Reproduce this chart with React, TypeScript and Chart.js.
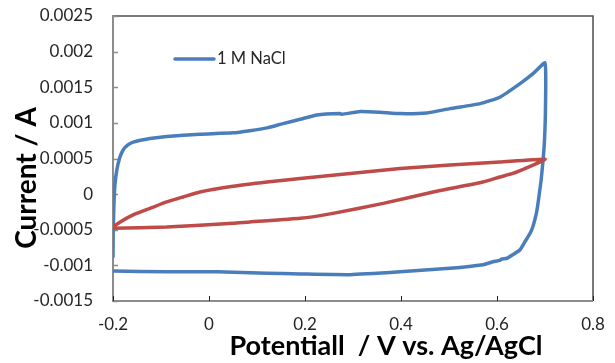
import { useEffect, useRef } from "react";
import { Chart, registerables } from "chart.js";

Chart.register(...registerables);

// Cyclic voltammogram, 1 M NaCl (potential in V, current in A)
const naclLabel = "1 M NaCl";
const naclPotential = [
  -0.2, -0.1995, -0.198, -0.196, -0.192, -0.186, -0.179, -0.169, -0.158, -0.123,
  -0.088, -0.019, 0.05, 0.085, 0.121, 0.154, 0.19, 0.225, 0.273, 0.277,
  0.315, 0.356, 0.398, 0.454, 0.502, 0.565, 0.606, 0.648, 0.675, 0.7,
  0.701, 0.699, 0.696, 0.692, 0.689, 0.685, 0.682, 0.675, 0.669, 0.658,
  0.648, 0.633, 0.621, 0.61, 0.606, 0.592, 0.571, 0.502, 0.398, 0.294,
  0.19, 0.121, 0.017, -0.088, -0.2,
];
const naclCurrent = [
  -0.00088, -0.0005, -0.00013, 0.00013, 0.00034, 0.00051, 0.00062, 0.00069, 0.00073, 0.00078,
  0.00081, 0.00084, 0.00086, 0.00089, 0.00093, 0.00099, 0.00105, 0.00111, 0.00113, 0.00112,
  0.00116, 0.00115, 0.00113, 0.00114, 0.0012, 0.00127, 0.00136, 0.00155, 0.00169, 0.00184,
  0.00122, 0.00076, 0.00048, 0.0002, 0.00005, -0.00015, -0.00027, -0.00045, -0.00055, -0.00067,
  -0.00078, -0.00085, -0.0009, -0.00091, -0.00093, -0.00095, -0.00099, -0.00104, -0.00109, -0.00113,
  -0.00112, -0.00111, -0.00109, -0.00109, -0.00108,
];

// Second voltammogram (red trace, not listed in the legend)
const series2Label = "Series2";
const series2Potential = [
  -0.2, -0.185, -0.158, -0.123, -0.088, -0.054, -0.019, 0.05, 0.121, 0.19,
  0.294, 0.398, 0.502, 0.606, 0.7, 0.669, 0.633, 0.606, 0.571, 0.467,
  0.363, 0.258, 0.19, 0.085, 0.05, -0.088, -0.2,
];
const series2Current = [
  -0.00046, -0.00039, -0.00029, -0.0002, -0.00011, -0.00004, 0.00003, 0.00011, 0.00017, 0.00022,
  0.00029, 0.00036, 0.00041, 0.00045, 0.00049, 0.00039, 0.00029, 0.00024, 0.00017, 0.00003,
  -0.00013, -0.00027, -0.00034, -0.00039, -0.00041, -0.00046, -0.00048,
];

const xTickValues = [-0.2, 0, 0.2, 0.4, 0.6, 0.8];
const yTickValues = [-0.0015, -0.001, -0.0005, 0, 0.0005, 0.001, 0.0015, 0.002, 0.0025];
const xTitle = "Potentiall  / V vs. Ag/AgCl";
const yTitle = "Current / A";

const BLUE = "#4a7ebb";
const RED = "#be4b48";
const FONT = "Lato, 'Open Sans', sans-serif";

const zip = (xs: number[], ys: number[]) => xs.map((x, i) => ({ x, y: ys[i] }));

// Plot frame, inward tick marks, axis titles and the single-entry legend
const decorations = {
  id: "decorations",
  beforeDatasetsDraw(chart: any) {
    const { ctx, chartArea } = chart;
    const { left, right, top, bottom } = chartArea;
    ctx.save();
    ctx.strokeStyle = "#4d4d4d";
    ctx.lineWidth = 1.5;
    ctx.beginPath();
    ctx.moveTo(left, top);
    ctx.lineTo(right, top);
    ctx.lineTo(right, bottom);
    ctx.stroke();

    ctx.strokeStyle = "#8c8c8c";
    ctx.lineWidth = 2;
    ctx.beginPath();
    ctx.moveTo(left, top - 1);
    ctx.lineTo(left, bottom);
    ctx.lineTo(right, bottom);
    ctx.stroke();

    const xs = chart.scales.x;
    const ys = chart.scales.y;
    ctx.strokeStyle = "#8c8c8c";
    ctx.lineWidth = 1.5;
    ctx.beginPath();
    for (const v of yTickValues) {
      const py = Math.round(ys.getPixelForValue(v)) + 0.5;
      ctx.moveTo(left, py);
      ctx.lineTo(left + 5, py);
    }
    ctx.stroke();
    ctx.strokeStyle = "#222";
    ctx.lineWidth = 1;
    ctx.beginPath();
    for (const v of xTickValues) {
      const px = Math.round(xs.getPixelForValue(v)) + 0.5;
      ctx.moveTo(px, bottom);
      ctx.lineTo(px, bottom - 5);
    }
    ctx.stroke();
    ctx.restore();
  },
  afterDraw(chart: any) {
    const { ctx } = chart;
    ctx.save();
    ctx.fillStyle = "#000";
    ctx.textAlign = "center";
    ctx.textBaseline = "middle";
    ctx.font = `bold 27px ${FONT}`;
    ctx.fillText(xTitle, 386, 346);
    ctx.translate(27, 178);
    ctx.rotate(-Math.PI / 2);
    ctx.font = `bold 28px ${FONT}`;
    ctx.fillText(yTitle, 0, 0);
    ctx.restore();

    // legend entry for the first series only
    ctx.save();
    ctx.strokeStyle = BLUE;
    ctx.lineWidth = 3.5;
    ctx.lineCap = "round";
    ctx.beginPath();
    ctx.moveTo(175, 59);
    ctx.lineTo(214, 59);
    ctx.stroke();
    ctx.fillStyle = "#262626";
    ctx.font = `16.5px ${FONT}`;
    ctx.textAlign = "left";
    ctx.textBaseline = "middle";
    ctx.fillText(chart.data.datasets[1].label, 217, 59);
    ctx.restore();
  },
};

export default function App() {
  const canvasRef = useRef<HTMLCanvasElement | null>(null);

  useEffect(() => {
    if (!canvasRef.current) return;
    const chart = new Chart(canvasRef.current, {
      type: "scatter",
      data: {
        datasets: [
          {
            label: series2Label,
            data: zip(series2Potential, series2Current),
            showLine: true,
            borderColor: RED,
            borderWidth: 3.5,
            pointRadius: 0,
            tension: 0.15,
            borderJoinStyle: "round",
            borderCapStyle: "round",
            order: 0,
          },
          {
            label: naclLabel,
            data: zip(naclPotential, naclCurrent),
            showLine: true,
            borderColor: BLUE,
            borderWidth: 3.5,
            pointRadius: 0,
            tension: 0.15,
            borderJoinStyle: "round",
            borderCapStyle: "round",
            order: 1,
          },
        ],
      },
      options: {
        responsive: false,
        animation: false,
        devicePixelRatio: 1,
        layout: { autoPadding: false, padding: { left: 0, right: 22, top: 16, bottom: 0 } },
        plugins: {
          legend: { display: false },
          tooltip: { enabled: false },
          title: { display: false },
        },
        scales: {
          x: {
            type: "linear",
            min: -0.2,
            max: 0.8,
            afterBuildTicks: (scale: any) => {
              scale.ticks = xTickValues.map((value) => ({ value }));
            },
            afterFit: (scale: any) => {
              scale.height = 62;
              scale.paddingLeft = 0;
              scale.paddingRight = 0;
            },
            grid: { display: false, drawTicks: false },
            border: { display: false },
            ticks: {
              padding: 13,
              color: "#262626",
              font: { family: FONT, size: 17 },
              maxRotation: 0,
              autoSkip: false,
              callback: (v: any) => String(v),
            },
          },
          y: {
            type: "linear",
            min: -0.0015,
            max: 0.0025,
            afterBuildTicks: (scale: any) => {
              scale.ticks = yTickValues.map((value) => ({ value }));
            },
            afterFit: (scale: any) => {
              scale.width = 113;
              scale.paddingTop = 0;
              scale.paddingBottom = 0;
            },
            grid: { display: false, drawTicks: false },
            border: { display: false },
            ticks: {
              padding: 20,
              color: "#262626",
              font: { family: FONT, size: 17 },
              autoSkip: false,
              callback: (v: any) => String(v),
            },
          },
        },
      },
      plugins: [decorations],
    });
    return () => chart.destroy();
  }, []);

  return (
    <div style={{ position: "fixed", left: 0, top: 0, width: 615, height: 363, background: "#fff" }}>
      <canvas ref={canvasRef} width={615} height={363} />
    </div>
  );
}
